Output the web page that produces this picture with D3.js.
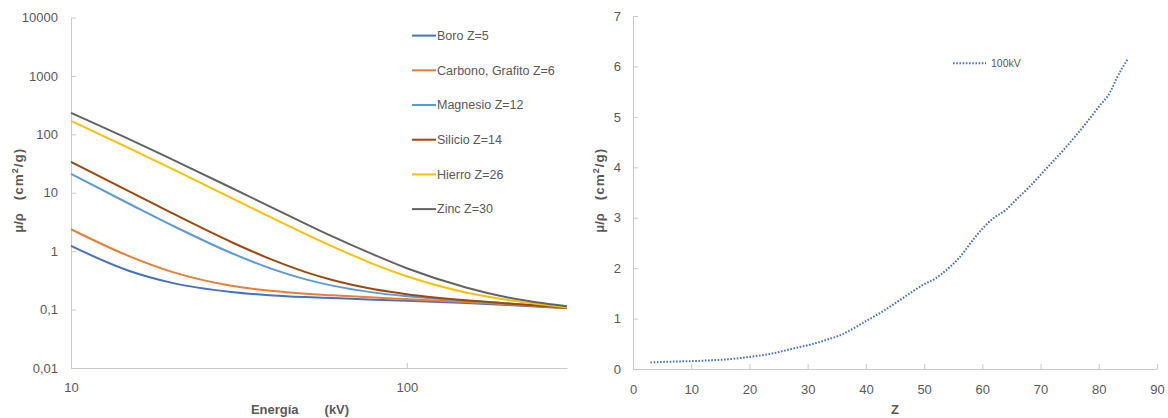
<!DOCTYPE html>
<html>
<head>
<meta charset="utf-8">
<script src="https://cdn.jsdelivr.net/npm/d3@7"></script>
<style>
  body { margin: 0; background: #fff; }
  text { font-family: "Liberation Sans", Arial, sans-serif; fill: #595959; }
</style>
</head>
<body>
<svg id="chart" width="1168" height="418"></svg>
<script>
// Mass attenuation coefficient μ/ρ (cm²/g) versus photon energy (kV)
const energies = [10, 15, 20, 30, 40, 50, 60, 80, 100, 150, 200, 300];
const boro     = [1.229, 0.4532, 0.2865, 0.2001, 0.1748, 0.1639, 0.1574, 0.1480, 0.1417, 0.1297, 0.1201, 0.1058];
const carbono  = [2.373, 0.8071, 0.4420, 0.2562, 0.2076, 0.1871, 0.1753, 0.1610, 0.1514, 0.1347, 0.1229, 0.1066];
const magnesio = [21.05, 6.358, 2.763, 0.9306, 0.4881, 0.3292, 0.2570, 0.1951, 0.1694, 0.1422, 0.1273, 0.1098];
const silicio  = [33.89, 10.34, 4.464, 1.436, 0.7012, 0.4385, 0.3207, 0.2228, 0.1835, 0.1448, 0.1275, 0.1082];
const hierro   = [170.6, 57.08, 25.68, 8.176, 3.629, 1.958, 1.205, 0.5952, 0.3717, 0.1964, 0.1460, 0.1099];
const zinc     = [233.1, 81.17, 37.19, 12.18, 5.469, 2.936, 1.788, 0.8630, 0.5099, 0.2389, 0.1608, 0.1138];
const seriesNames = ["Boro Z=5", "Carbono, Grafito Z=6", "Magnesio Z=12", "Silicio Z=14", "Hierro Z=26", "Zinc Z=30"];
const seriesValues = [boro, carbono, magnesio, silicio, hierro, zinc];
const seriesColors = ["#4472C4", "#ED7D31", "#5B9BD5", "#9E480E", "#FFC000", "#636363"];
const leftYTicks = [0.01, 0.1, 1, 10, 100, 1000, 10000];
const leftXTicks = [10, 100];

// μ/ρ at 100 kV as a function of atomic number Z
const zNumbers = [3, 5, 8, 10, 13, 16, 20, 24, 28, 30, 33, 36, 40, 43, 46, 50, 52, 54, 56, 58, 60, 62, 64, 66, 68, 70, 72, 74, 76, 78, 80, 82, 83, 85];
const mu100kV  = [0.13, 0.14, 0.15, 0.155, 0.17, 0.19, 0.24, 0.31, 0.42, 0.47, 0.57, 0.69, 0.95, 1.15, 1.38, 1.68, 1.80, 1.98, 2.2, 2.5, 2.78, 3.0, 3.15, 3.38, 3.6, 3.85, 4.1, 4.35, 4.62, 4.9, 5.2, 5.5, 5.75, 6.15];
const rightXTicks = [0, 10, 20, 30, 40, 50, 60, 70, 80, 90];
const rightYTicks = [0, 1, 2, 3, 4, 5, 6, 7];
const rightSeriesName = "100kV";

const svg = d3.select("#chart");
const axisColor = "#c9c9c9";

function styleAxis(g) {
  g.selectAll("path.domain").attr("stroke", axisColor).attr("stroke-width", 1);
  g.selectAll(".tick line").attr("stroke", axisColor);
  g.selectAll(".tick text").attr("fill", "#595959")
    .style("font-family", '"Liberation Sans", Arial, sans-serif').style("font-size", "13px");
}

function yTitle(cx) {
  const g = svg.append("g").attr("transform", `translate(${cx},188) rotate(-90)`);
  g.append("text").attr("x", -35).attr("dy", "0.35em").attr("text-anchor", "middle")
    .style("font-size", "13px").style("font-weight", "bold").text("μ/ρ");
  const u = g.append("text").attr("x", 14).attr("dy", "0.35em").attr("text-anchor", "middle")
    .style("font-size", "13.5px").style("font-weight", "bold").style("letter-spacing", "1px");
  u.append("tspan").text("(cm");
  u.append("tspan").attr("dy", "-5").style("font-size", "9px").text("2");
  u.append("tspan").attr("dy", "5").text("/g)");
}

// ---------- Left chart: log-log curves ----------
const L = { left: 71, right: 567, top: 17.5, bottom: 368 };
const xL = d3.scaleLog().domain([10, 300]).range([L.left, L.right]);
const yL = d3.scaleLog().domain([0.01, 10000]).range([L.bottom, L.top]);

const commaFmt = d => String(d).replace(".", ",");

svg.append("g").attr("transform", `translate(${L.left},0)`)
  .call(d3.axisLeft(yL).tickValues(leftYTicks).tickFormat(commaFmt)
    .tickSizeInner(-5).tickSizeOuter(0).tickPadding(13))
  .call(styleAxis);
svg.append("g").attr("transform", `translate(0,${L.bottom})`)
  .call(d3.axisBottom(xL).tickValues(leftXTicks).tickFormat(d3.format("d"))
    .tickSizeInner(-5).tickSizeOuter(0).tickPadding(15))
  .call(styleAxis);

const lineL = d3.line()
  .x((d, i) => xL(energies[i]))
  .y(d => yL(d))
  .curve(d3.curveMonotoneX);

seriesValues.forEach((vals, k) => {
  svg.append("path").datum(vals)
    .attr("fill", "none").attr("stroke", seriesColors[k]).attr("stroke-width", 2)
    .attr("d", lineL);
});

// legend
seriesNames.forEach((name, k) => {
  const y = 35.6 + k * 34.7;
  svg.append("line").attr("x1", 412).attr("x2", 436).attr("y1", y).attr("y2", y)
    .attr("stroke", seriesColors[k]).attr("stroke-width", 2);
  svg.append("text").attr("x", 437).attr("y", y).attr("dy", "0.35em")
    .style("font-size", "12.5px").text(name);
});

// axis titles
const xt = svg.append("text").attr("x", 300).attr("y", 409).attr("dy", "0.35em")
  .attr("text-anchor", "middle").style("font-size", "13px").style("font-weight", "bold");
xt.append("tspan").text("Energía");
xt.append("tspan").attr("dx", 26).text("(kV)");
yTitle(18);

// ---------- Right chart: μ/ρ vs Z at 100 kV ----------
const R = { left: 633, right: 1157, top: 16, bottom: 369 };
const xR = d3.scaleLinear().domain([0, 90]).range([R.left, R.right]);
const yR = d3.scaleLinear().domain([0, 7]).range([R.bottom, R.top]);

svg.append("g").attr("transform", `translate(${R.left},0)`)
  .call(d3.axisLeft(yR).tickValues(rightYTicks).tickFormat(d3.format("d"))
    .tickSizeInner(-5).tickSizeOuter(0).tickPadding(12))
  .call(styleAxis);
svg.append("g").attr("transform", `translate(0,${R.bottom})`)
  .call(d3.axisBottom(xR).tickValues(rightXTicks).tickFormat(d3.format("d"))
    .tickSizeInner(-5).tickSizeOuter(0).tickPadding(16))
  .call(styleAxis);

const lineR = d3.line()
  .x((d, i) => xR(zNumbers[i]))
  .y(d => yR(d))
  .curve(d3.curveMonotoneX);

svg.append("path").datum(mu100kV)
  .attr("fill", "none").attr("stroke", "#4472C4").attr("stroke-width", 2)
  .attr("stroke-dasharray", "1.6 1.6")
  .attr("d", lineR);

svg.append("line").attr("x1", 953).attr("x2", 986).attr("y1", 63.3).attr("y2", 63.3)
  .attr("stroke", "#4472C4").attr("stroke-width", 2).attr("stroke-dasharray", "1.6 1.6");
svg.append("text").attr("x", 991).attr("y", 63.3).attr("dy", "0.35em")
  .style("font-size", "10.5px").text(rightSeriesName);

svg.append("text").attr("x", 895).attr("y", 409).attr("dy", "0.35em")
  .attr("text-anchor", "middle").style("font-size", "13px").style("font-weight", "bold").text("Z");
yTitle(599);
</script>
</body>
</html>
